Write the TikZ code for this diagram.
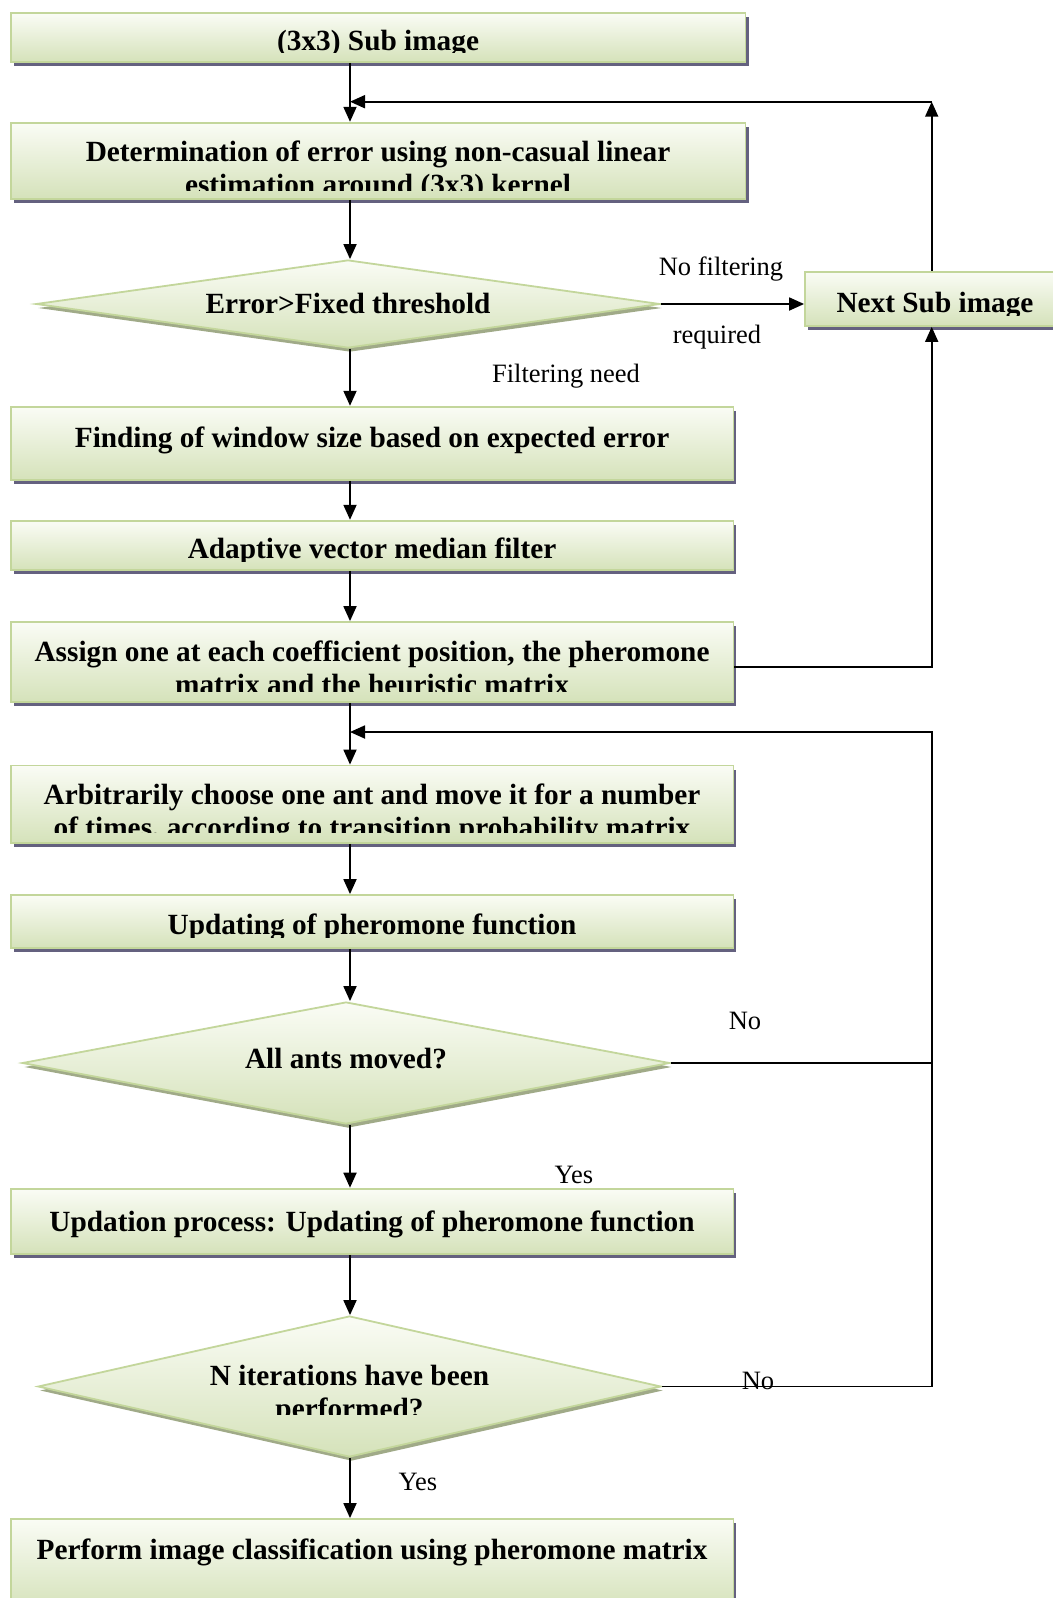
\documentclass[tikz,border=0pt]{standalone}
\usepackage{fontspec}
\setmainfont{Liberation Serif}
\usetikzlibrary{arrows.meta,shapes.geometric,shadows}
\definecolor{bord}{HTML}{C3D69B}
\definecolor{boxtop}{HTML}{FAFCF5}
\definecolor{boxbot}{HTML}{D5E2BA}
\definecolor{boxshadow}{HTML}{64617F}
\definecolor{diashadow}{HTML}{A0AA88}
\begin{document}
\begin{tikzpicture}[x=1pt,y=-1pt,
  box/.style={rectangle, draw=bord, line width=1.8pt, top color=boxtop, bottom color=boxbot, inner sep=0pt,
    drop shadow={shadow xshift=3pt, shadow yshift=-4pt, fill=boxshadow, opacity=1}},
  dia/.style={diamond, draw=bord, line width=1.8pt, top color=boxtop, bottom color=boxbot, inner sep=0pt,
    drop shadow={shadow xshift=2pt, shadow yshift=-4pt, fill=diashadow, opacity=1}},
  bt/.style={font=\bfseries\fontsize{29.3}{33}\selectfont, anchor=base, inner sep=0pt},
  lt/.style={font=\fontsize{26.5}{30}\selectfont, anchor=base, inner sep=0pt},
  arr/.style={-{Triangle[length=15pt,width=13pt]}, line width=1.8pt},
  ln/.style={line width=1.8pt}]
\useasboundingbox[fill=white] (0,0) rectangle (1052,1598);

% boxes
\node[box, minimum width=734.8pt, minimum height=48.7pt] (A) at (378.1,37.65) {};
\node[box, minimum width=734.8pt, minimum height=76.3pt] (B) at (378.1,160.85) {};
\node[dia, minimum width=624pt, minimum height=88pt] (C) at (348,304) {};
\node[box, minimum width=260pt, minimum height=54.3pt] (N) at (935,298.85) {};
\node[box, minimum width=722.7pt, minimum height=73.3pt] (D) at (372.05,443.35) {};
\node[box, minimum width=722.7pt, minimum height=49.3pt] (E) at (372.05,545.35) {};
\node[box, minimum width=722.7pt, minimum height=80pt] (F) at (372.05,662) {};
\node[box, minimum width=722.7pt, minimum height=77.5pt] (G) at (372.05,804.25) {};
\node[box, minimum width=722.7pt, minimum height=53pt] (H) at (372.05,921.5) {};
\node[dia, minimum width=647.6pt, minimum height=122pt] (I) at (346,1063) {};
\node[box, minimum width=722.7pt, minimum height=65.4pt] (J) at (372.05,1221.3) {};
\node[dia, minimum width=623pt, minimum height=141pt] (K) at (349.5,1386.5) {};
\node[box, minimum width=722.7pt, minimum height=91pt] (L) at (372.05,1564.5) {};

% texts (clipped like the text frames of the original)
\begin{scope}\clip (0,0) rectangle (760,52);
\node[bt] (tA) at (378.1,50.5) {(3x3) Sub image};
\end{scope}
\begin{scope}\clip (0,120) rectangle (760,190);
\node[bt] (tB1) at (378.1,161.5) {Determination of error using non-casual linear};
\node[bt] (tB2) at (378.1,194.5) {estimation around (3x3) kernel};
\end{scope}
\node[bt] (tC) at (348,313.5) {Error>Fixed threshold};
\begin{scope}\clip (780,260) rectangle (1052,315);
\node[bt] (tN) at (935,312.5) {Next Sub image};
\end{scope}
\node[bt] (tD) at (372.05,447) {Finding of window size based on expected error};
\begin{scope}\clip (0,515) rectangle (760,561);
\node[bt] (tE) at (372.05,558) {Adaptive vector median filter};
\end{scope}
\begin{scope}\clip (0,615) rectangle (760,691);
\node[bt] (tF1) at (372.05,661.5) {Assign one at each coefficient position, the pheromone};
\node[bt] (tF2) at (372.05,694.5) {matrix and the heuristic matrix};
\end{scope}
\begin{scope}\clip (0,760) rectangle (760,832);
\node[bt] (tG1) at (372.05,804.5) {Arbitrarily choose one ant and move it for a number};
\node[bt] (tG2) at (372.05,837.5) {of times, according to transition probability matrix};
\end{scope}
\begin{scope}\clip (0,890) rectangle (760,937);
\node[bt] (tH) at (372.05,934) {Updating of pheromone function};
\end{scope}
\node[bt] (tI) at (346,1068.5) {All ants moved?};
\node[bt] (tJ) at (372.05,1231) {Updation process: Updating of pheromone function};
\begin{scope}\clip (0,1300) rectangle (760,1414);
\node[bt] (tK1) at (349.5,1385) {N iterations have been};
\node[bt] (tK2) at (349.5,1418) {performed?};
\end{scope}
\node[bt] (tL) at (372.05,1559) {Perform image classification using pheromone matrix};

% labels
\node[lt] (lNoF) at (721,275) {No filtering};
\node[lt] (lReq) at (717,343) {required};
\node[lt] (lFN) at (566,382) {Filtering need};
\node[lt] (lNo1) at (745,1029) {No};
\node[lt] (lYes1) at (574,1183) {Yes};
\node[lt] (lNo2) at (758,1389) {No};
\node[lt] (lYes2) at (418,1490) {Yes};

% connectors
\coordinate (spine) at (350,0);
\coordinate (rail) at (931.7,0);
\coordinate (c1) at (931.7,101.7);
\coordinate (j1) at (350,101.7);
\coordinate (c2) at (931.7,732);
\coordinate (j2) at (350,732);

\draw[arr] (spine |- A.south) -- (spine |- B.north);
\draw[arr] (spine |- B.south) -- (spine |- C.north);
\draw[arr] (spine |- C.south) -- (spine |- D.north);
\draw[arr] (spine |- D.south) -- (spine |- E.north);
\draw[arr] (spine |- E.south) -- (spine |- F.north);
\draw[arr] (spine |- F.south) -- (spine |- G.north);
\draw[arr] (spine |- G.south) -- (spine |- H.north);
\draw[arr] (spine |- H.south) -- (spine |- I.north);
\draw[arr] (spine |- I.south) -- (spine |- J.north);
\draw[arr] (spine |- J.south) -- (spine |- K.north);
\draw[arr] (spine |- K.south) -- (spine |- L.north);

\draw[arr] (C.east) -- (N.west |- C.east);
\draw[arr] (rail |- N.north) -- (c1);
\draw[arr] (c1) -- (j1);
\draw[arr] ([yshift=-5pt]F.east) -| (rail |- N.south);

\draw[ln] (I.east) -- (rail |- I.east);
\draw[arr] (K.east) -- (rail |- K.east) -- (c2) -- (j2);
\end{tikzpicture}
\end{document}
